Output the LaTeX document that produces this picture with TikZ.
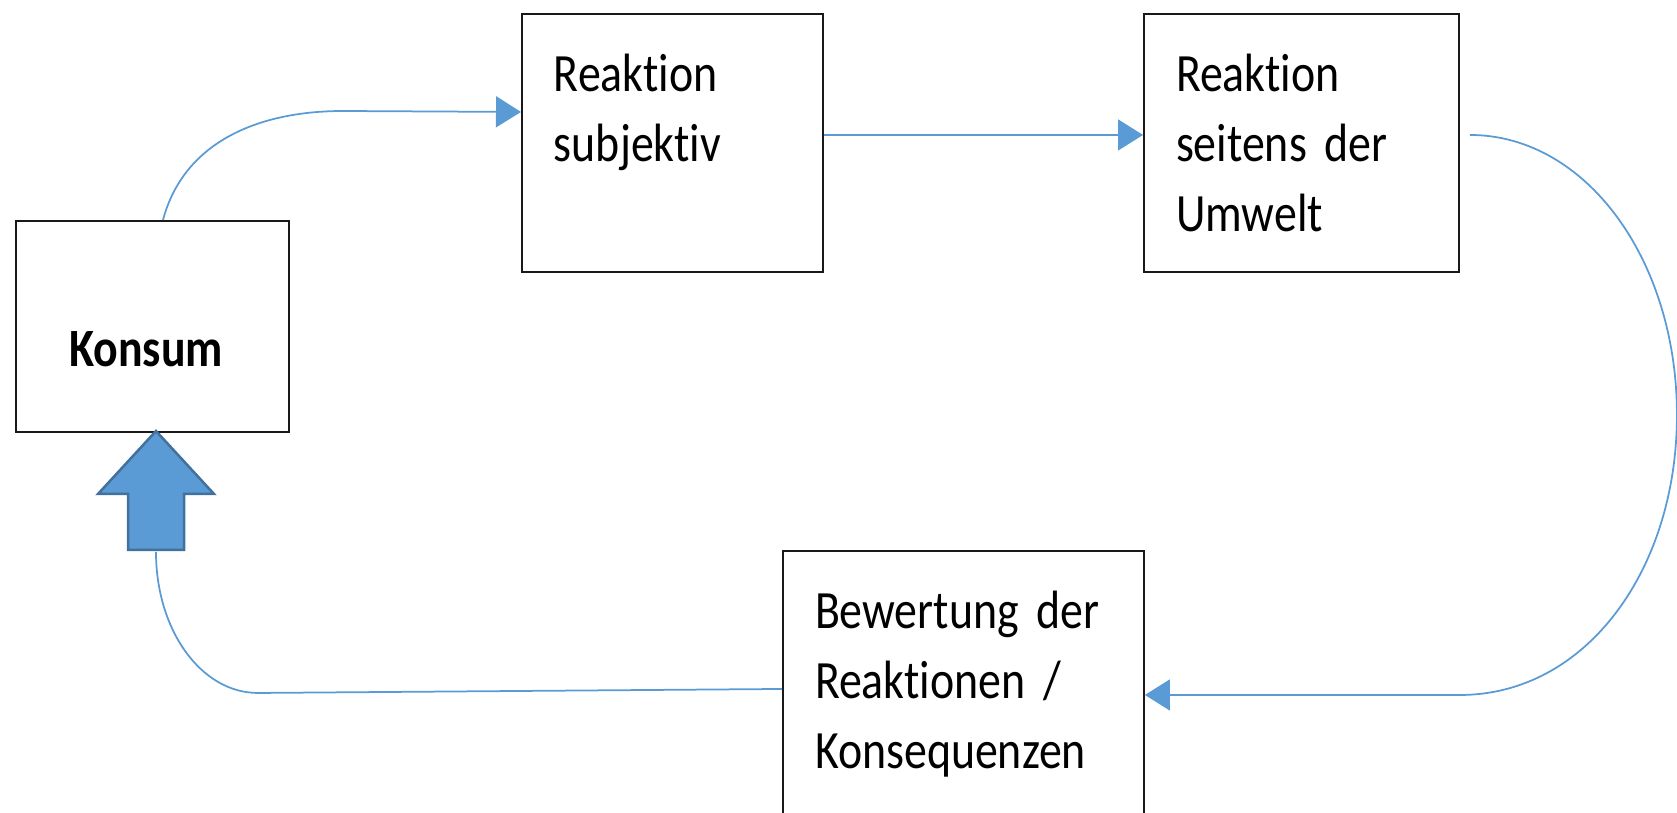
\documentclass[tikz,border=0pt]{standalone}
\usepackage{fontspec}
\setmainfont{Carlito}[FakeStretch=0.85, Ligatures=NoCommon]
\usetikzlibrary{arrows.meta}
\definecolor{lineblue}{HTML}{5B9BD5}
\definecolor{edgeblue}{HTML}{41719C}

\begin{document}
\begin{tikzpicture}[x=0.02cm, y=-0.02cm]% Kreislauf
	\tikzstyle{box} = [rectangle, draw=black!90, line width=0.04cm, anchor=north west, align=left, inner xsep=0.64cm, inner ysep=0pt, font=\fontsize{30.7}{39.8}\selectfont]
	\tikzstyle{conn} = [draw=lineblue, line width=0.035cm, -{Triangle[length=0.5cm, width=0.62cm]}]
	\useasboundingbox (0,0) rectangle (1677,813);

	\node (konsum) [box, minimum width=5.46cm, minimum height=4.22cm, inner xsep=0pt, text height=1.62cm, text depth=0pt] at (15,220) {\textbf{Konsum}\hspace*{0.26cm}};
	\node (subjektiv) [box, text width=4.74cm, minimum height=5.16cm] at (521,13) {Reaktion\\subjektiv\\\mbox{}};
	\node (umwelt) [box, text width=5.02cm, minimum height=5.16cm] at (1143,13) {Reaktion\\seitens der\\Umwelt};
	\node (bewertung) [box, text width=5.94cm, minimum height=6.56cm] at (782,550) {Bewertung der\\Reaktionen /\\Konsequenzen\\\mbox{}};

	\draw[draw=edgeblue, fill=lineblue, line width=0.05cm] (156,431) -- (214,494) -- (184,494) -- (184,550) -- (128,550) -- (128,494) -- (98,494) -- cycle;
	\coordinate (tail) at (156,552);

	\draw[conn] ([xshift=0.21cm]konsum.north) to[out=75, in=180] ++(180,-109) -- ([yshift=0.62cm]subjektiv.west);
	\draw[conn] ([yshift=0.16cm]subjektiv.east) -- ([yshift=0.16cm]umwelt.west);
	\draw[conn] ([xshift=0.2cm, yshift=0.16cm]umwelt.east) .. controls +(116,0) and +(0,-155) .. ++(207,280) .. controls +(0,155) and +(126,0) .. ++(-217,280) -- ([yshift=0.4cm]bewertung.east);
	\draw[draw=lineblue, line width=0.035cm] ([yshift=0.52cm]bewertung.west) -- ++(-524,4) .. controls +(-57,0) and +(0,78) .. (tail);
\end{tikzpicture}
\end{document}
